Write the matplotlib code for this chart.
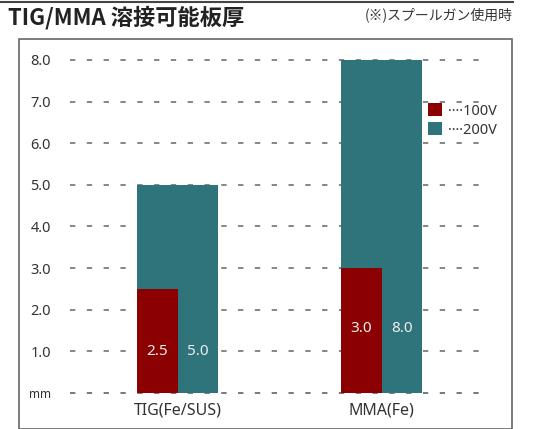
import matplotlib.pyplot as plt
from matplotlib import rcParams
from matplotlib.patches import Rectangle, Patch
from matplotlib.lines import Line2D

# data
categories = ["TIG(Fe/SUS)", "MMA(Fe)"]
v100 = [2.5, 3.0]
v200 = [5.0, 8.0]
label_y = [1.0, 1.55]
yticks = [1.0, 2.0, 3.0, 4.0, 5.0, 6.0, 7.0, 8.0]
series_names = ["100V", "200V"]

red = "#8b0000"
teal = "#2e747a"
txt = "#333333"

rcParams['font.family'] = ['Noto Sans', 'Noto Sans CJK JP', 'DejaVu Sans']
rcParams['font.size'] = 10

fig = plt.figure(figsize=(5.5, 4.29), dpi=100, facecolor='white')

# top rule and outer frame
fig.add_artist(Line2D([0, 513/550], [1 - 2/429, 1 - 2/429], transform=fig.transFigure,
                      color="#444444", lw=1.5))
fig.add_artist(Rectangle((19/550, 0.5/429), (512-19)/550, (428.5-39)/429, transform=fig.transFigure,
                         fill=False, edgecolor="#666666", lw=1.2))

fig.text(8/550, 1 - 18/429, "TIG/MMA 溶接可能板厚", fontsize=16, fontweight='bold',
         family=['Noto Sans CJK JP', 'DejaVu Sans'], color="#222222", va='center', ha='left')
fig.text(513/550, 1 - 15/429, "(※)スプールガン使用時", fontsize=10, color=txt,
         family=['Noto Sans CJK JP', 'DejaVu Sans'], va='center', ha='right')

ax = fig.add_axes([70/550, (429-393)/429, (486-70)/550, (393-60)/429])

x = [0, 1]
w = 0.397
for xi, a, b, ly in zip(x, v100, v200, label_y):
    ax.bar(xi, b, width=w, color=teal, zorder=2)
    ax.bar(xi - w/2, a, width=w/2, align='edge', color=red, zorder=3)
    ax.text(xi - w/4, ly, f"{a:.1f}", color="#eeeeee", ha='center', va='center', fontsize=11, zorder=4)
    ax.text(xi + w/4, ly, f"{b:.1f}", color="#eeeeee", ha='center', va='center', fontsize=11, zorder=4)

ax.set_xlim(-0.527, 1.512)
ax.set_ylim(0, 8.0)

for yv in [0.0] + yticks:
    ax.axhline(yv, color="#555555" if yv == 0 else "#666666", lw=1.1,
               linestyle=(0, (3.5, 7.5)), zorder=1, clip_on=False)

for s in ax.spines.values():
    s.set_visible(False)

ax.set_yticks([0.0] + yticks)
ax.set_yticklabels(["mm"] + [f"{t:.1f}" for t in yticks], color=txt, fontsize=10.5)
ax.get_yticklabels()[0].set_fontsize(8.5)
ax.tick_params(axis='y', length=0, pad=13.7)
ax.set_xticks(x)
ax.set_xticklabels(categories, fontsize=11.5, color=txt)
ax.tick_params(axis='x', length=0, pad=7)

handles = [Patch(facecolor=red), Patch(facecolor=teal)]
ax.legend(handles, ["····" + n for n in series_names], loc='upper left',
          bbox_to_anchor=(0.828, 0.91), frameon=False, fontsize=10.5,
          handlelength=1.0, handleheight=1.0, handletextpad=0.4, labelspacing=0.25,
          labelcolor=txt)

fig.savefig("out.png", dpi=100, facecolor='white')
